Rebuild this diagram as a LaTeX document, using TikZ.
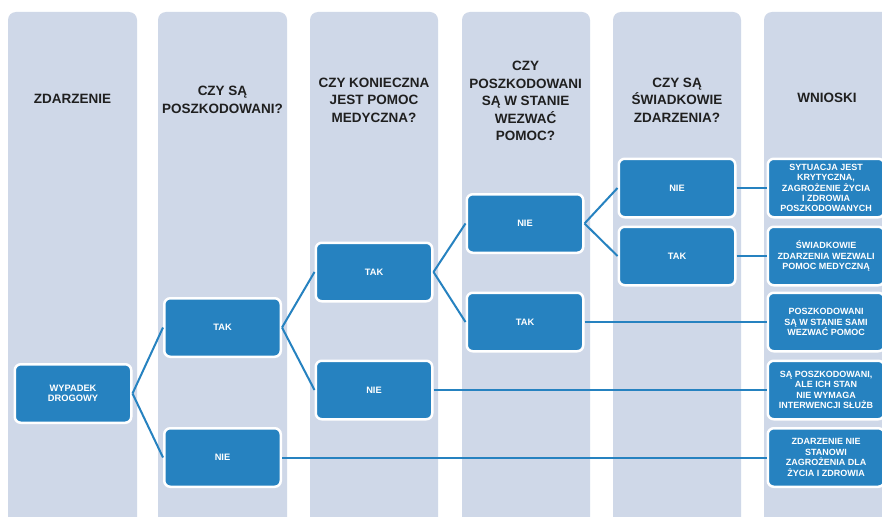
\documentclass[tikz,border=0pt]{standalone}
\usepackage{fontspec}
\setmainfont{Liberation Sans}
\definecolor{lanefill}{RGB}{207,216,232}
\definecolor{boxblue}{RGB}{38,130,192}
\begin{document}
\begin{tikzpicture}[x=1pt,y=-1pt,
  lane/.style={fill=lanefill, rounded corners=8pt},
  header/.style={font=\fontsize{13.5}{17.5}\selectfont\bfseries, text=black!88, align=center, inner sep=0pt},
  stepbox/.style={fill=boxblue, draw=white, line width=2.5pt, rounded corners=6pt,
    minimum width=116.5pt, minimum height=58.5pt, text=white, align=center, inner sep=0pt,
    font=\fontsize{9.3}{10.5}\selectfont\bfseries},
  outcome/.style={stepbox, font=\fontsize{9}{10.4}\selectfont\bfseries},
  link/.style={draw=boxblue, line width=2pt}
]
\clip (0,0) rectangle (882,516);
\fill[white] (0,0) rectangle (882,516);

% columns
\fill[lane] (8,12) rectangle (137,540);
\fill[lane] (158,12) rectangle (287,540);
\fill[lane] (310,12) rectangle (438,540);
\fill[lane] (462,12) rectangle (590,540);
\fill[lane] (613,12) rectangle (741,540);
\fill[lane] (764,12) rectangle (893,540);

% column headers
\node[header] (h1) at (72.5,99) {ZDARZENIE};
\node[header] (h2) at (222.5,100) {CZY SĄ\\POSZKODOWANI?};
\node[header] (h3) at (374,100) {CZY KONIECZNA\\JEST POMOC\\MEDYCZNA?};
\node[header] (h4) at (525.5,101) {CZY\\POSZKODOWANI\\SĄ W STANIE\\WEZWAĆ\\POMOC?};
\node[header] (h5) at (677,100) {CZY SĄ\\ŚWIADKOWIE\\ZDARZENIA?};
\node[header] (h6) at (827,98) {WNIOSKI};

% decision boxes
\node[stepbox] (w)  at (73,393.5)   {WYPADEK\\DROGOWY};
\node[stepbox] (t2) at (222.5,327.5) {TAK};
\node[stepbox] (n2) at (222.5,457.5) {NIE};
\node[stepbox] (t3) at (374,272)    {TAK};
\node[stepbox] (n3) at (374,390)    {NIE};
\node[stepbox] (n4) at (525,223.5)  {NIE};
\node[stepbox] (t4) at (525,322)    {TAK};
\node[stepbox] (n5) at (677,188)    {NIE};
\node[stepbox] (t5) at (677,256)    {TAK};

% conclusions
\node[outcome] (c1) at (826,188) {SYTUACJA JEST\\KRYTYCZNA,\\ZAGROŻENIE ŻYCIA\\I ZDROWIA\\POSZKODOWANYCH};
\node[outcome] (c2) at (826,256) {ŚWIADKOWIE\\ZDARZENIA WEZWALI\\POMOC MEDYCZNĄ};
\node[outcome] (c3) at (826,322) {POSZKODOWANI\\SĄ W STANIE SAMI\\WEZWAĆ POMOC};
\node[outcome] (c4) at (826,390) {SĄ POSZKODOWANI,\\ALE ICH STAN\\NIE WYMAGA\\INTERWENCJI SŁUŻB};
\node[outcome] (c5) at (826,457.5) {ZDARZENIE NIE\\STANOWI\\ZAGROŻENIA DLA\\ŻYCIA I ZDROWIA};

% connectors
\draw[link] (w.east) -- (t2.west);
\draw[link] (w.east) -- (n2.west);
\draw[link] (t2.east) -- (t3.west);
\draw[link] (t2.east) -- (n3.west);
\draw[link] (t3.east) -- (n4.west);
\draw[link] (t3.east) -- (t4.west);
\draw[link] (n4.east) -- (n5.west);
\draw[link] (n4.east) -- (t5.west);
\draw[link] (n5.east) -- (c1.west);
\draw[link] (t5.east) -- (c2.west);
\draw[link] (t4.east) -- (c3.west);
\draw[link] (n3.east) -- (c4.west);
\draw[link] (n2.east) -- (c5.west);
\end{tikzpicture}
\end{document}
